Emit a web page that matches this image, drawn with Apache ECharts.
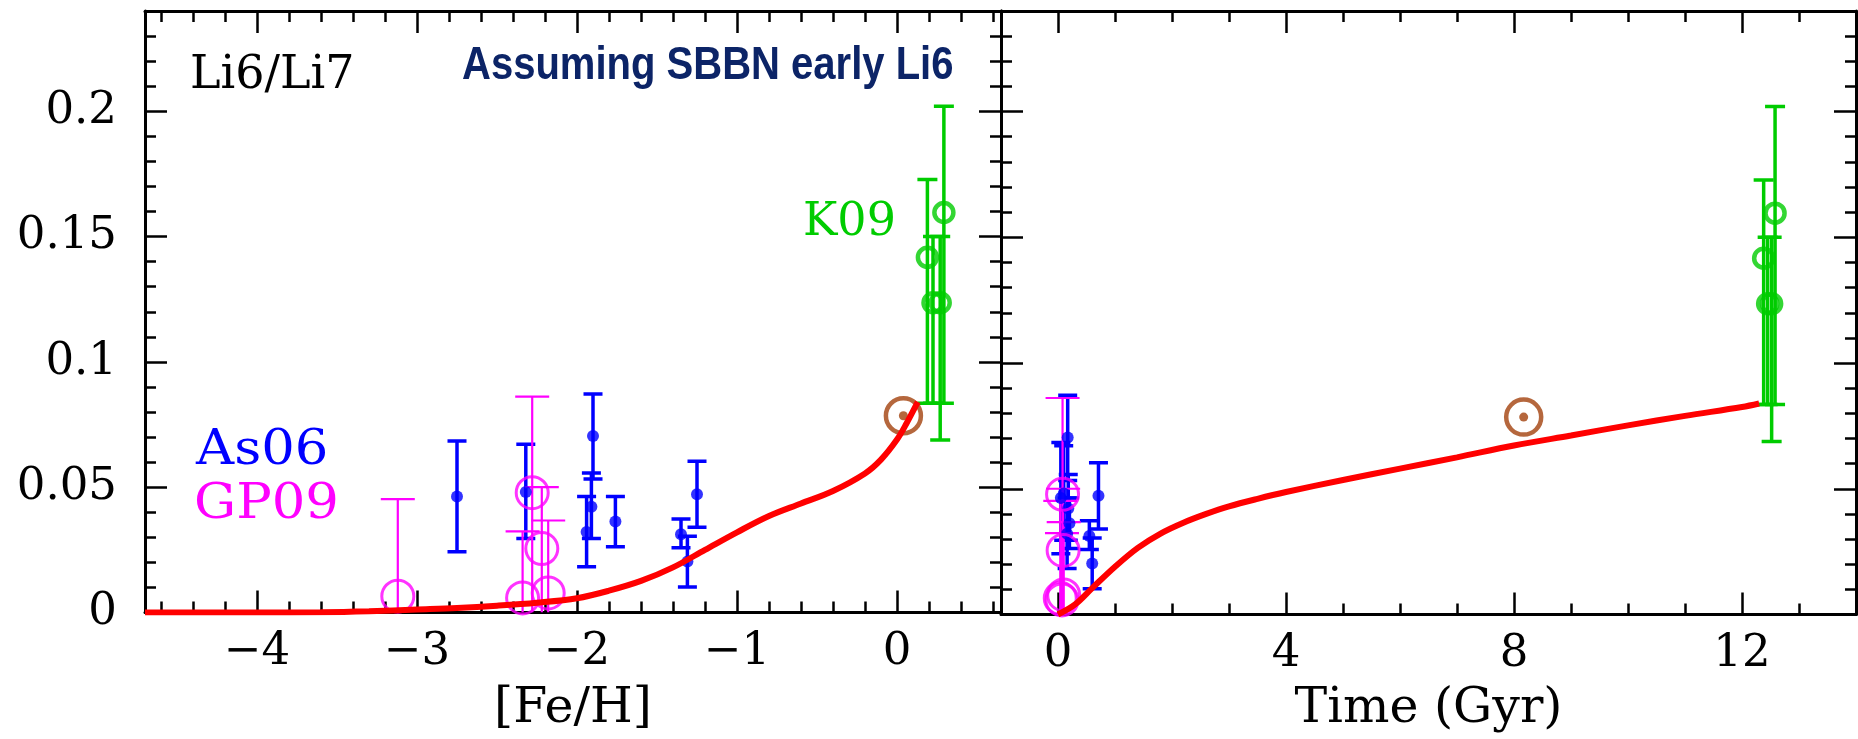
<!DOCTYPE html>
<html><head><meta charset="utf-8">
<script src="https://cdn.jsdelivr.net/npm/echarts@6/dist/echarts.min.js"></script>
<style>html,body{margin:0;padding:0;background:#fff}#c{width:1858px;height:739px}</style>
</head><body><div id="c"></div>
<script>
// ---------- data ----------
// model curve vs [Fe/H]
const fehCurveX = [-4.7, -4.0, -3.6, -3.3, -3.0, -2.75, -2.5, -2.25, -2.0, -1.8, -1.6, -1.4, -1.2, -1.0, -0.8, -0.6, -0.4, -0.2, -0.1, 0.0, 0.06, 0.13];
const fehCurveY = [0, 0, 0.0001, 0.0005, 0.0012, 0.0018, 0.0027, 0.0039, 0.0057, 0.0087, 0.0126, 0.018, 0.025, 0.032, 0.0385, 0.0435, 0.0485, 0.0555, 0.061, 0.069, 0.0755, 0.084];
// model curve vs time (Gyr)
const tCurveX = [0, 0.3, 0.6, 1.0, 1.4, 1.8, 2.2, 2.6, 3.0, 3.5, 4.0, 5.0, 6.0, 7.0, 8.0, 9.0, 10.0, 11.0, 12.0, 12.3];
const tCurveY = [0, 0.004, 0.0105, 0.019, 0.0265, 0.0322, 0.0365, 0.0400, 0.0430, 0.0460, 0.0487, 0.0535, 0.058, 0.0625, 0.0672, 0.0712, 0.0752, 0.079, 0.0825, 0.0839];
// As06
const asFeh  = [-2.75, -2.32, -1.90, -1.91, -1.94, -1.76, -1.35, -1.25, -1.31];
const asTime = [0.05, 0.10, 0.17, 0.18, 0.16, 0.20, 0.55, 0.71, 0.60];
const asVal  = [0.0463, 0.0481, 0.0704, 0.0422, 0.0321, 0.0363, 0.0312, 0.0472, 0.0203];
const asLo   = [0.0242, 0.0295, 0.0533, 0.0295, 0.0183, 0.0262, 0.0258, 0.0340, 0.0102];
const asHi   = [0.0684, 0.0671, 0.0872, 0.0557, 0.0463, 0.0463, 0.0373, 0.0603, 0.0304];
// GP09
const gpFeh  = [-3.12, -2.28, -2.22, -2.34, -2.18];
const gpTime = [0.04, 0.08, 0.09, 0.07, 0.10];
const gpVal  = [0.0065, 0.0478, 0.0255, 0.0058, 0.0078];
const gpLo   = [0, 0, 0, 0, 0];
const gpHi   = [0.0452, 0.0861, 0.050, 0.0324, 0.0367];
// K09
const kFeh  = [0.293, 0.19, 0.225, 0.27];
const kTime = [12.58, 12.38, 12.45, 12.52];
const kVal  = [0.1596, 0.1417, 0.1236, 0.1236];
const kLo   = [0.0835, 0.0835, 0.0835, 0.0688];
const kHi   = [0.202, 0.1728, 0.150, 0.150];
// Sun
const sunFeh = [0.04], sunTime = [8.17], sunVal = [0.0785];
// ticks
const fehMajor = [-4, -3, -2, -1, 0];
const tMajor = [0, 4, 8, 12];
const yMajor = [0, 0.05, 0.1, 0.15, 0.2];

// ---------- helpers ----------
const FONT = '"DejaVu Serif", serif';
const TICKFS = 45, TITLEFS = 49;
const r = v => Math.round(v * 1000) / 1000;
const fehMinor = [], tMinor = [], yMinor = [];
for (let k = -23; k <= 3; k++) { if (k % 5 !== 0) fehMinor.push(r(k * 0.2)); }
for (let k = 0; k <= 13; k++) { if (k % 4 !== 0) tMinor.push(k); }
for (let k = 1; k <= 23; k++) { if (k % 5 !== 0) yMinor.push(r(k * 0.01)); }
const fmt = v => String(v).replace('-', '\u2212');

function ax(o) {
  return {
    type: 'value', gridIndex: o.grid, min: o.min, max: o.max, position: o.pos,
    name: o.name || '', nameLocation: 'middle', nameGap: o.nameGap || 0,
    nameTextStyle: {fontFamily: FONT, fontSize: TITLEFS, color: '#000', verticalAlign: 'middle'},
    axisLine: {show: o.line, onZero: false, lineStyle: {color: '#000', width: 3}},
    axisTick: {show: true, inside: true, length: o.len, customValues: o.ticks, lineStyle: {color: '#000', width: 2.5}},
    axisLabel: o.labels ? {show: true, customValues: o.labels, margin: o.margin, fontFamily: FONT, fontSize: TICKFS, color: '#000', formatter: fmt} : {show: false},
    splitLine: {show: false}, minorTick: {show: false}
  };
}
const XL = [-4.7, 0.65], XR = [-1, 14], Y = [0, 0.24];
const xAxes = [
  ax({grid: 0, min: XL[0], max: XL[1], pos: 'bottom', line: true, len: 22, ticks: fehMajor, labels: fehMajor, margin: 17, name: '[Fe/H]', nameGap: 97}),
  ax({grid: 0, min: XL[0], max: XL[1], pos: 'bottom', line: false, len: 11, ticks: fehMinor}),
  ax({grid: 0, min: XL[0], max: XL[1], pos: 'top', line: true, len: 22, ticks: fehMajor}),
  ax({grid: 0, min: XL[0], max: XL[1], pos: 'top', line: false, len: 11, ticks: fehMinor}),
  ax({grid: 1, min: XR[0], max: XR[1], pos: 'bottom', line: true, len: 22, ticks: tMajor, labels: tMajor, margin: 17, name: 'Time (Gyr)', nameGap: 95}),
  ax({grid: 1, min: XR[0], max: XR[1], pos: 'bottom', line: false, len: 11, ticks: tMinor}),
  ax({grid: 1, min: XR[0], max: XR[1], pos: 'top', line: true, len: 22, ticks: tMajor}),
  ax({grid: 1, min: XR[0], max: XR[1], pos: 'top', line: false, len: 11, ticks: tMinor})
];
const yAxes = [
  ax({grid: 0, min: Y[0], max: Y[1], pos: 'left', line: true, len: 22, ticks: yMajor, labels: yMajor, margin: 28}),
  ax({grid: 0, min: Y[0], max: Y[1], pos: 'left', line: false, len: 11, ticks: yMinor}),
  ax({grid: 0, min: Y[0], max: Y[1], pos: 'right', line: true, len: 22, ticks: yMajor}),
  ax({grid: 0, min: Y[0], max: Y[1], pos: 'right', line: false, len: 11, ticks: yMinor}),
  ax({grid: 1, min: Y[0], max: Y[1], pos: 'left', line: true, len: 22, ticks: yMajor}),
  ax({grid: 1, min: Y[0], max: Y[1], pos: 'left', line: false, len: 11, ticks: yMinor}),
  ax({grid: 1, min: Y[0], max: Y[1], pos: 'right', line: true, len: 22, ticks: yMajor}),
  ax({grid: 1, min: Y[0], max: Y[1], pos: 'right', line: false, len: 11, ticks: yMinor})
];

function errSeries(xs, lo, hi, xi, yi, color, lw, cap, z) {
  return {
    type: 'custom', xAxisIndex: xi, yAxisIndex: yi, clip: true, z: z, silent: true,
    data: xs.map((x, i) => [x, lo[i], hi[i]]),
    encode: {x: 0, y: [1, 2]},
    renderItem: (params, api) => {
      const x = api.value(0), l = api.value(1), h = api.value(2);
      const a = api.coord([x, l]), b = api.coord([x, h]);
      const st = {stroke: color, lineWidth: lw};
      const ch = [
        {type: 'line', shape: {x1: a[0], y1: a[1], x2: b[0], y2: b[1]}, style: st},
        {type: 'line', shape: {x1: b[0] - cap / 2, y1: b[1], x2: b[0] + cap / 2, y2: b[1]}, style: st}
      ];
      if (l > 0) ch.push({type: 'line', shape: {x1: a[0] - cap / 2, y1: a[1], x2: a[0] + cap / 2, y2: a[1]}, style: st});
      return {type: 'group', children: ch};
    }
  };
}
function pts(xs, ys, xi, yi, size, style, z) {
  return {type: 'scatter', xAxisIndex: xi, yAxisIndex: yi, symbol: 'circle', symbolSize: size,
    itemStyle: style, z: z, silent: true, data: xs.map((x, i) => [x, ys[i]])};
}
function curve(xs, ys, xi, yi) {
  return {type: 'line', xAxisIndex: xi, yAxisIndex: yi, showSymbol: false, symbol: 'none', smooth: 0.35,
    lineStyle: {color: '#ff0000', width: 6}, z: 10, silent: true, data: xs.map((x, i) => [x, ys[i]])};
}
const BLUE = '#0000ff', MAG = '#ff00ff', GREEN = '#00cc00', BROWN = '#a3410c';
const ringStyle = (c, w) => ({color: 'transparent', borderColor: c, borderWidth: w});

function panel(xsAs, xsGp, xsK, xsSun, xC, yC, xi, yi) {
  return [
    errSeries(xsAs, asLo, asHi, xi, yi, BLUE, 3.5, 19, 3),
    errSeries(xsGp, gpLo, gpHi, xi, yi, MAG, 2.2, 34, 4),
    errSeries(xsK, kLo, kHi, xi, yi, GREEN, 3.5, 20, 4),
    pts(xsAs, asVal, xi, yi, 12, {color: BLUE}, 5),
    pts(xsGp, gpVal, xi, yi, 32, ringStyle(MAG, 3), 6),
    pts(xsK, kVal, xi, yi, 19, ringStyle(GREEN, 4.5), 6),
    pts(xsSun, sunVal, xi, yi, 35, ringStyle(BROWN, 4.5), 6),
    pts(xsSun, sunVal, xi, yi, 9, {color: BROWN}, 6),
    curve(xC, yC, xi, yi)
  ];
}

const chart = echarts.init(document.getElementById('c'), null, {renderer: 'canvas'});
chart.setOption({
  animation: false,
  backgroundColor: '#fff',
  grid: [
    {left: 145, top: 11, width: 856, height: 610},
    {left: 1001, top: 11, width: 855, height: 610}
  ],
  xAxis: xAxes,
  yAxis: yAxes,
  series: [].concat(
    panel(asFeh, gpFeh, kFeh, sunFeh, fehCurveX, fehCurveY, 0, 0),
    panel(asTime, gpTime, kTime, sunTime, tCurveX, tCurveY, 4, 4)
  ),
  graphic: [
    {type: 'text', x: 190, y: 76, style: {text: 'Li6/Li7', font: '46px "DejaVu Serif"', fill: '#000', verticalAlign: 'middle'}},
    {type: 'text', x: 462, y: 66, scaleX: 0.87, style: {text: 'Assuming SBBN early Li6', font: 'bold 46px "Liberation Sans"', fill: '#0c2467', verticalAlign: 'middle'}},
    {type: 'text', x: 196, y: 452, scaleX: 1.1, style: {text: 'As06', font: '48px "DejaVu Serif"', fill: BLUE, verticalAlign: 'middle'}},
    {type: 'text', x: 194, y: 506, scaleX: 1.1, style: {text: 'GP09', font: '48px "DejaVu Serif"', fill: MAG, verticalAlign: 'middle'}},
    {type: 'text', x: 803, y: 223, style: {text: 'K09', font: '46px "DejaVu Serif"', fill: GREEN, verticalAlign: 'middle'}}
  ]
});
</script></body></html>
